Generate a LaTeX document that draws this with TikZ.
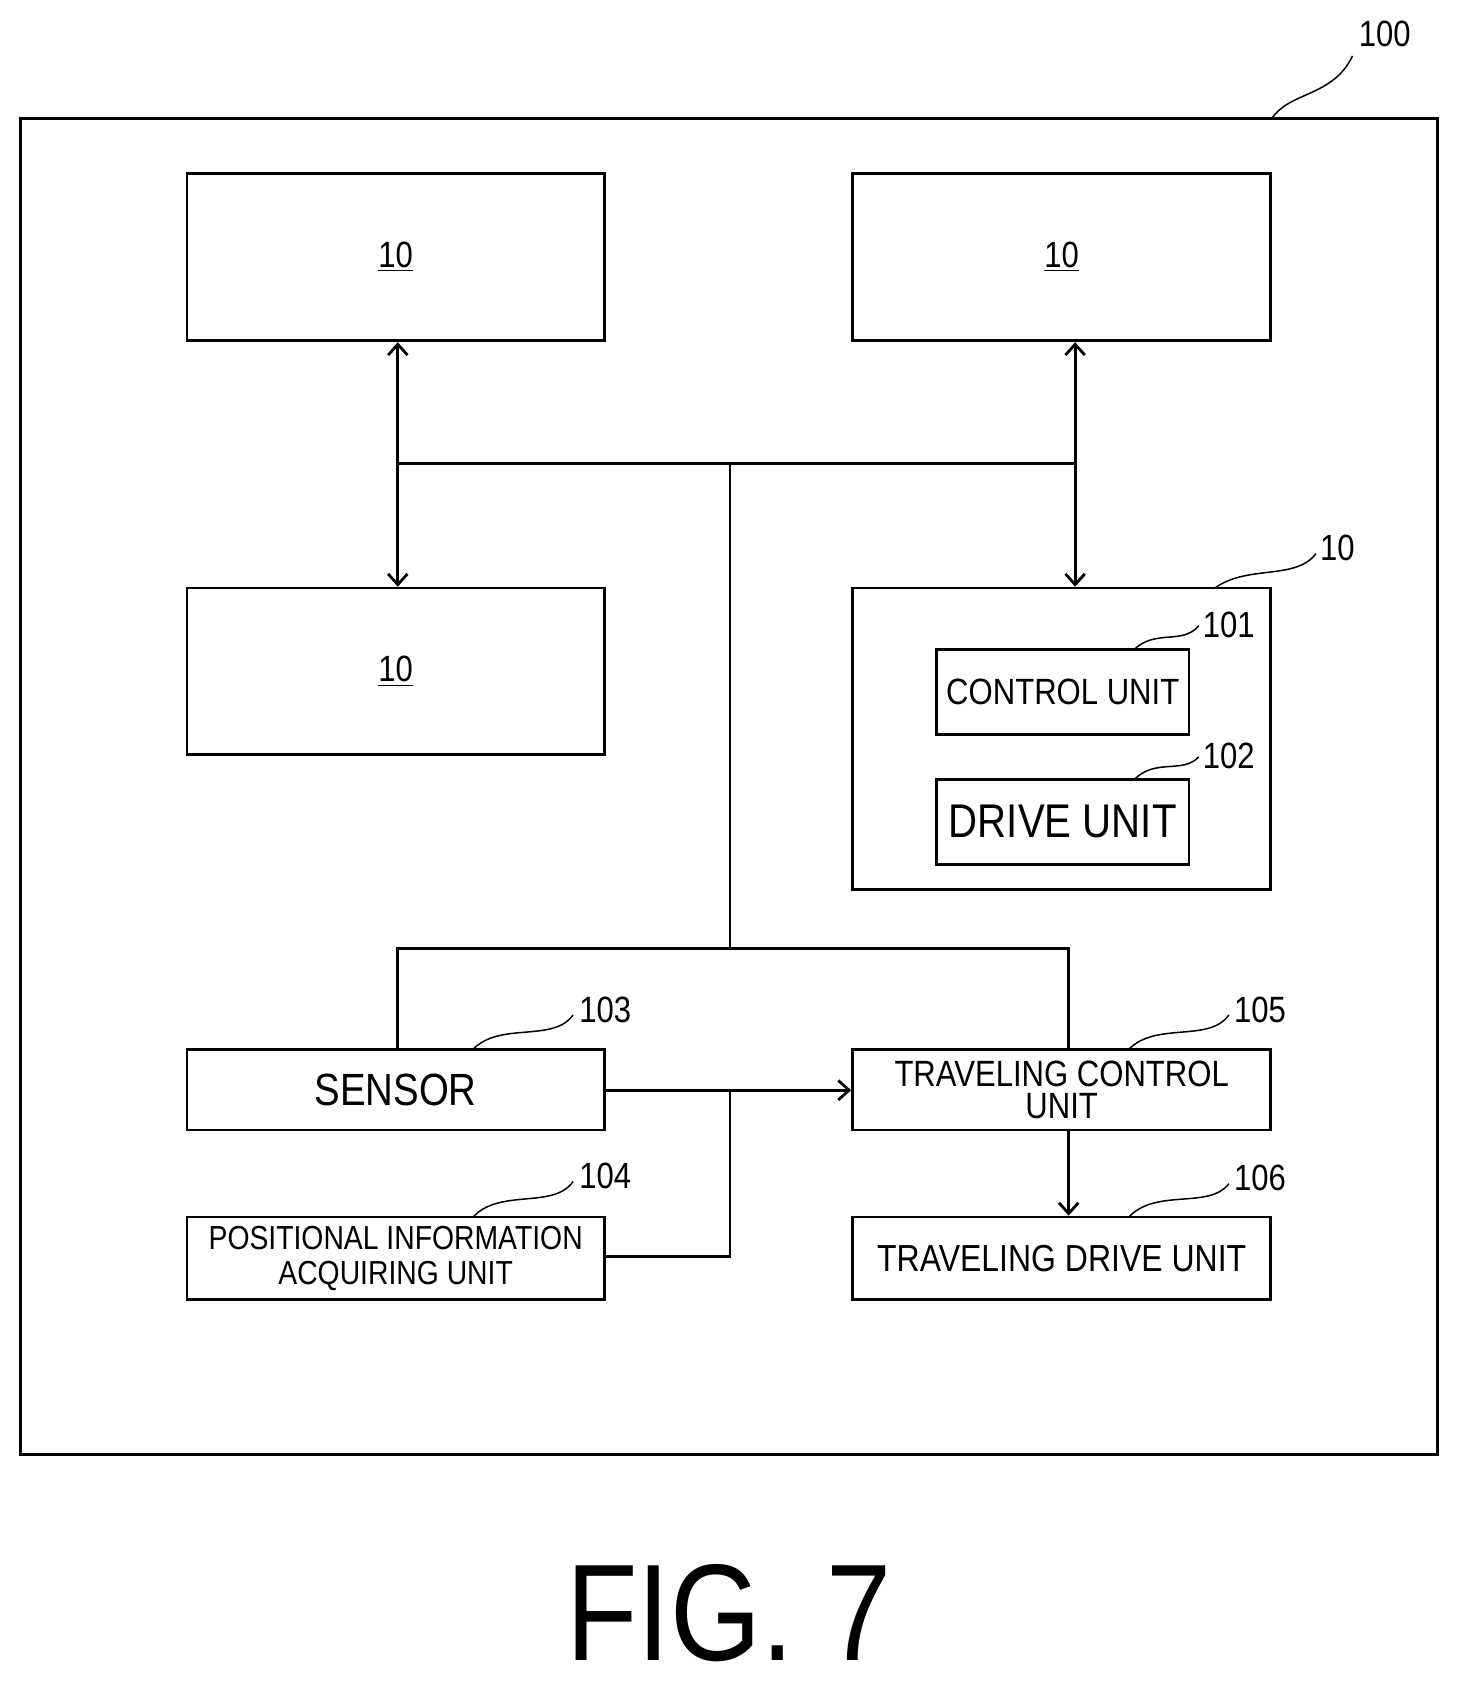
\documentclass[tikz,border=0pt]{standalone}
\usepackage{fontspec}
\setmainfont{Liberation Sans}[FakeStretch=0.85]
\usetikzlibrary{fit,arrows.meta}
\begin{document}
\begin{tikzpicture}[x=0.5pt,y=-0.5pt,line width=1.3pt,
 box/.style={draw,inner sep=0pt},
 txt/.style={align=center,font=\fontsize{17}{17}\selectfont},
 lab/.style={font=\fontsize{17}{17}\selectfont},
 lead/.style={line width=0.7pt},
 arr/.style={->,>={Straight Barb[length=5pt,width=9pt]}}]
\useasboundingbox (0,0) rectangle (1360,1571);
\node[draw,inner sep=0,fit={(19,110)(1337,1353)}] (outer) {};
\node[box,fit={(174,161)(562,317)}] (A) {};
\node[txt] (tA) at (A.center) {\underline{10}};
\node[box,fit={(793,161)(1182,317)}] (B) {};
\node[txt] (tB) at (B.center) {\underline{10}};
\node[box,fit={(174,547)(562,702)}] (C) {};
\node[txt] (tC) at (C.center) {\underline{10}};
\node[box,fit={(793,547)(1182,827)}] (D) {};
\node[box,fit={(871,604)(1106,683)}] (cu) {};
\node[txt] (tcu) at (cu.center) {CONTROL UNIT};
\node[box,fit={(871,725)(1106,804)}] (du) {};
\node[txt,font=\fontsize{22}{22}\selectfont] (tdu) at (du.center) {DRIVE UNIT};
\node[box,fit={(174,976)(562,1051)}] (sen) {};
\node[txt,font=\fontsize{21}{21}\selectfont] (tsen) at (sen.center) {SENSOR};
\node[box,fit={(174,1132)(562,1209)}] (pos) {};
\node[txt,font=\fontsize{15.5}{16}\selectfont] (tpos) at (pos.center) {POSITIONAL INFORMATION\\ACQUIRING UNIT};
\node[box,fit={(793,976)(1182,1051)}] (tc) {};
\node[txt,font=\fontsize{17}{17}\selectfont] (ttc) at (tc.center) {TRAVELING CONTROL\\[-2pt]UNIT};
\node[box,fit={(793,1132)(1182,1209)}] (td) {};
\node[txt,font=\fontsize{17.5}{18}\selectfont] (ttd) at (td.center) {TRAVELING DRIVE UNIT};
\coordinate (j1) at (370,431); \coordinate (j2) at (1000,431); \coordinate (j3) at (679,431);
\coordinate (j4) at (679,882); \coordinate (j5) at (370,882); \coordinate (j6) at (994,882);
\coordinate (j7) at (679,1014); \coordinate (j8) at (679,1169);
\draw[arr,<->] (A.south-|j1) -- (C.north-|j1);
\draw[arr,<->] (B.south-|j2) -- (D.north-|j2);
\draw (j1) -- (j2); \draw (j3) -- (j4);
\draw (sen.north-|j5) -- (j5) -- (j6) -- (tc.north-|j6);
\draw[arr] (sen.east|-j7) -- (tc.west|-j7);
\draw (pos.east|-j8) -- (j8) -- (j7);
\draw[arr] (tc.south-|j6) -- (td.north-|j6);
\node[lab] (l100) at (1288,32) {100};
\draw[lead] (1183,110) .. controls (1200,85) and (1240,90) .. (1258,52);
\node[lab] (l10) at (1244,510) {10};
\draw[lead] (1130,547) .. controls (1160,525) and (1205,540) .. (1224,515);
\node[lab] (l101) at (1143,581) {101};
\draw[lead] (1055,604) .. controls (1075,585) and (1100,600) .. (1115,582);
\node[lab] (l102) at (1143,703) {102};
\draw[lead] (1055,725) .. controls (1075,705) and (1100,720) .. (1115,704);
\node[lab] (l103) at (563,939) {103};
\draw[lead] (440,976) .. controls (465,950) and (515,970) .. (533,944);
\node[lab] (l104) at (563,1094) {104};
\draw[lead] (440,1132) .. controls (465,1105) and (515,1125) .. (533,1099);
\node[lab] (l105) at (1172,939) {105};
\draw[lead] (1050,976) .. controls (1075,950) and (1125,970) .. (1143,944);
\node[lab] (l106) at (1172,1096) {106};
\draw[lead] (1050,1132) .. controls (1075,1105) and (1125,1125) .. (1143,1101);
\node[font=\fontsize{64}{64}\selectfont] (fig) at (678,1500) {FIG. 7};
\end{tikzpicture}
\end{document}
